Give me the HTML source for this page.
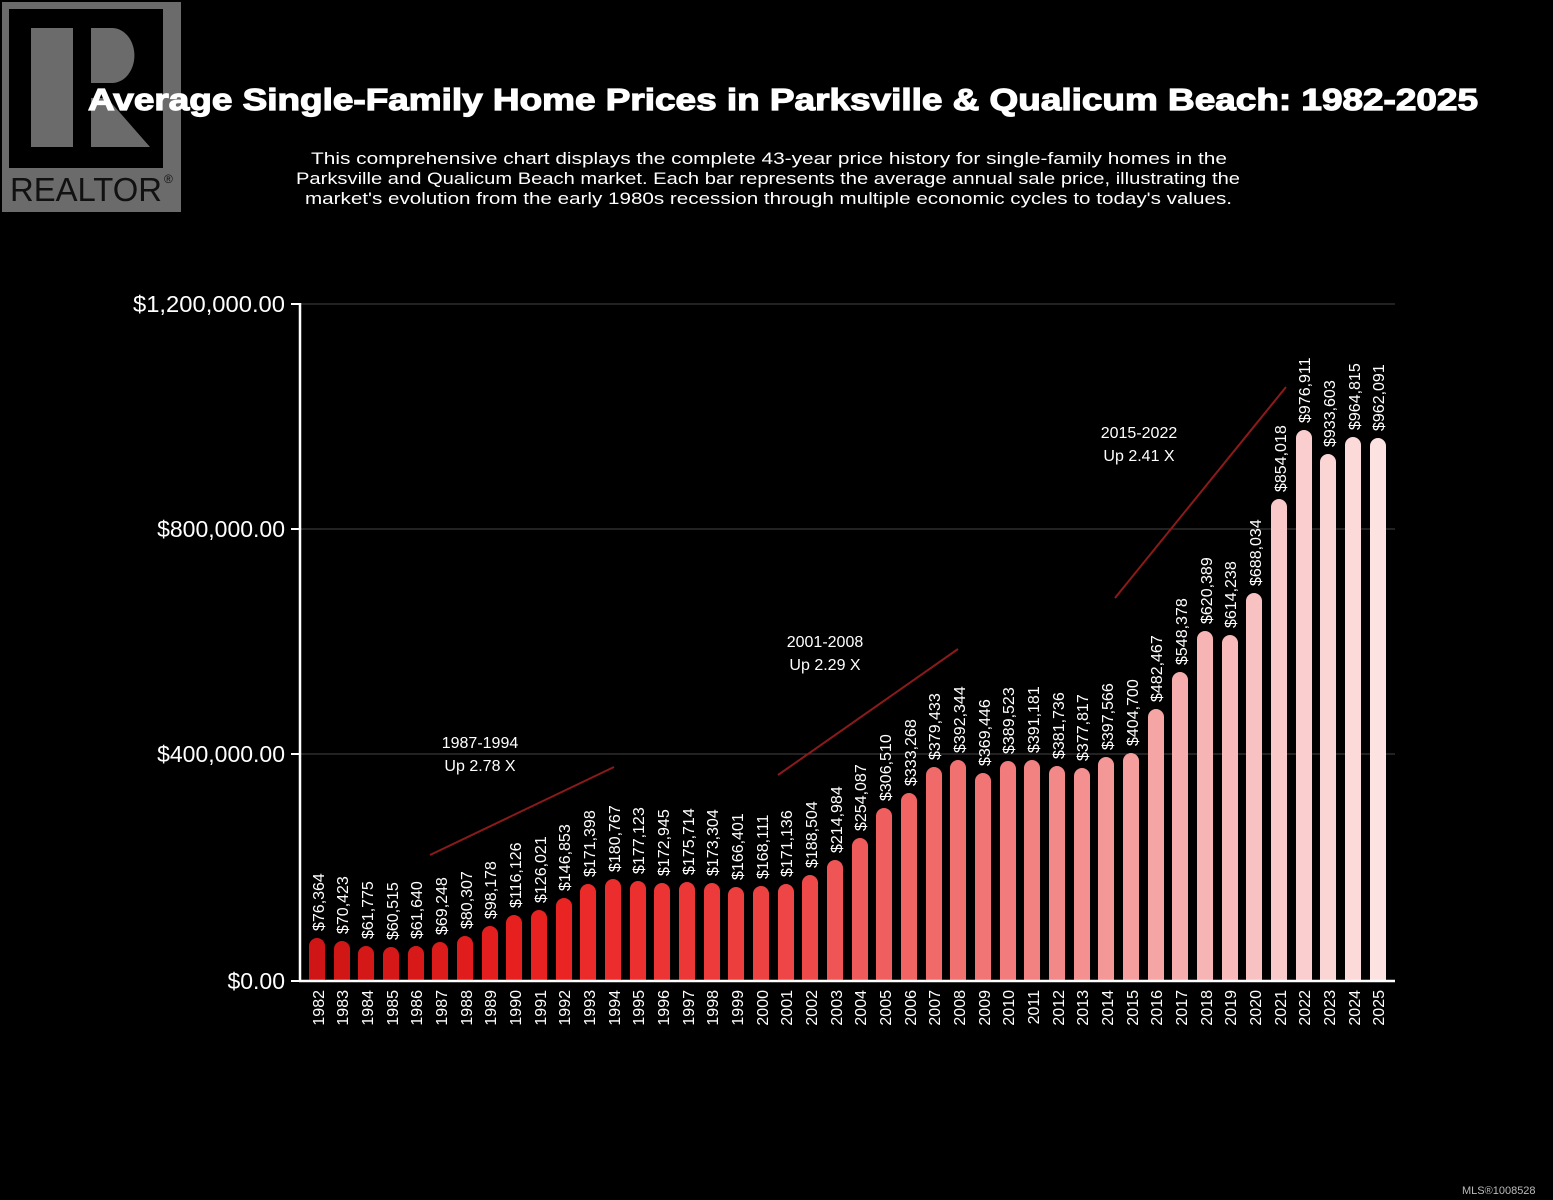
<!DOCTYPE html>
<html><head><meta charset="utf-8"><style>
html,body{margin:0;padding:0;background:#000;}
svg{display:block;font-family:"Liberation Sans",sans-serif;}
</style></head><body>
<svg width="1553" height="1200" viewBox="0 0 1553 1200" xmlns="http://www.w3.org/2000/svg">
<rect width="1553" height="1200" fill="#000"/>
<!-- logo -->
<rect x="2" y="2" width="179" height="210" fill="#6b6b6b"/>
<rect x="9" y="9" width="154" height="159" fill="#000"/>
<rect x="31" y="28" width="42" height="119" fill="#6b6b6b"/>
<path d="M91,28 H112 A22,27 0 0 1 112,83 H91 Z" fill="#6b6b6b"/>
<polygon points="91,98 91,147 150,147 107,98" fill="#6b6b6b"/>
<text x="10" y="201" font-size="33" fill="#111" textLength="152" lengthAdjust="spacingAndGlyphs">REALTOR</text>
<text x="164" y="183" font-size="12" fill="#111">®</text>
<!-- title -->
<text x="88" y="110" font-size="31" font-weight="bold" fill="#fff" stroke="#fff" stroke-width="1.2" textLength="1390" lengthAdjust="spacingAndGlyphs">Average Single-Family Home Prices in Parksville &amp; Qualicum Beach: 1982-2025</text>
<g font-size="17" fill="#fff">
<text x="311" y="164" textLength="916" lengthAdjust="spacingAndGlyphs">This comprehensive chart displays the complete 43-year price history for single-family homes in the</text>
<text x="296" y="184" textLength="944" lengthAdjust="spacingAndGlyphs">Parksville and Qualicum Beach market. Each bar represents the average annual sale price, illustrating the</text>
<text x="305" y="204" textLength="927" lengthAdjust="spacingAndGlyphs">market's evolution from the early 1980s recession through multiple economic cycles to today's values.</text>
</g>
<!-- grid -->
<line x1="300" y1="304" x2="1395" y2="304" stroke="#444" stroke-width="1"/>
<line x1="300" y1="529" x2="1395" y2="529" stroke="#444" stroke-width="1"/>
<line x1="300" y1="754" x2="1395" y2="754" stroke="#444" stroke-width="1"/>
<g stroke="#fff" stroke-width="2">
<line x1="291" y1="304" x2="300" y2="304"/><line x1="291" y1="529" x2="300" y2="529"/><line x1="291" y1="754" x2="300" y2="754"/><line x1="291" y1="981" x2="300" y2="981"/>
</g>
<g font-size="23" fill="#fff" text-anchor="end">
<text x="285" y="312" textLength="152" lengthAdjust="spacingAndGlyphs">$1,200,000.00</text>
<text x="285" y="537">$800,000.00</text>
<text x="285" y="762">$400,000.00</text>
<text x="285" y="989">$0.00</text>
</g>
<!-- bars -->
<g>
<rect x="309" y="938" width="16" height="52" rx="8" fill="#cf1515"/>
<rect x="334" y="941" width="16" height="49" rx="8" fill="#d11616"/>
<rect x="358" y="946" width="16" height="44" rx="8" fill="#d41717"/>
<rect x="383" y="947" width="16" height="43" rx="8" fill="#d61818"/>
<rect x="408" y="946" width="16" height="44" rx="8" fill="#d81919"/>
<rect x="432" y="942" width="16" height="48" rx="8" fill="#dc1b1b"/>
<rect x="457" y="936" width="16" height="54" rx="8" fill="#e01c1c"/>
<rect x="482" y="926" width="16" height="64" rx="8" fill="#e31e1e"/>
<rect x="506" y="915" width="16" height="75" rx="8" fill="#e61f1f"/>
<rect x="531" y="910" width="16" height="80" rx="8" fill="#e82121"/>
<rect x="556" y="898" width="16" height="92" rx="8" fill="#ea2323"/>
<rect x="580" y="884" width="16" height="106" rx="8" fill="#eb2a2a"/>
<rect x="605" y="879" width="16" height="111" rx="8" fill="#eb2d2d"/>
<rect x="630" y="881" width="16" height="109" rx="8" fill="#ec3030"/>
<rect x="654" y="883" width="16" height="107" rx="8" fill="#ec3434"/>
<rect x="679" y="882" width="16" height="108" rx="8" fill="#ec3737"/>
<rect x="704" y="883" width="16" height="107" rx="8" fill="#ed3a3a"/>
<rect x="728" y="887" width="16" height="103" rx="8" fill="#ed3e3e"/>
<rect x="753" y="886" width="16" height="104" rx="8" fill="#ed4242"/>
<rect x="778" y="884" width="16" height="106" rx="8" fill="#ee4646"/>
<rect x="802" y="875" width="16" height="115" rx="8" fill="#ee4a4a"/>
<rect x="827" y="860" width="16" height="130" rx="8" fill="#ef5555"/>
<rect x="852" y="838" width="16" height="152" rx="8" fill="#ef5a5a"/>
<rect x="876" y="808" width="16" height="182" rx="8" fill="#f05f5f"/>
<rect x="901" y="793" width="16" height="197" rx="8" fill="#f06464"/>
<rect x="926" y="767" width="16" height="223" rx="8" fill="#f06a6a"/>
<rect x="950" y="760" width="16" height="230" rx="8" fill="#f17070"/>
<rect x="975" y="773" width="16" height="217" rx="8" fill="#f17575"/>
<rect x="1000" y="761" width="16" height="229" rx="8" fill="#f27b7b"/>
<rect x="1024" y="760" width="16" height="230" rx="8" fill="#f28282"/>
<rect x="1049" y="766" width="16" height="224" rx="8" fill="#f38888"/>
<rect x="1074" y="768" width="16" height="222" rx="8" fill="#f49090"/>
<rect x="1098" y="757" width="16" height="233" rx="8" fill="#f49797"/>
<rect x="1123" y="753" width="16" height="237" rx="8" fill="#f59e9e"/>
<rect x="1148" y="709" width="16" height="281" rx="8" fill="#f6a5a5"/>
<rect x="1172" y="672" width="16" height="318" rx="8" fill="#f6adad"/>
<rect x="1197" y="631" width="16" height="359" rx="8" fill="#f7b4b4"/>
<rect x="1222" y="635" width="16" height="355" rx="8" fill="#f8baba"/>
<rect x="1246" y="593" width="16" height="397" rx="8" fill="#f9c2c2"/>
<rect x="1271" y="499" width="16" height="491" rx="8" fill="#f9c8c8"/>
<rect x="1296" y="430" width="16" height="560" rx="8" fill="#facece"/>
<rect x="1320" y="454" width="16" height="536" rx="8" fill="#fbd4d4"/>
<rect x="1345" y="437" width="16" height="553" rx="8" fill="#fcdada"/>
<rect x="1370" y="438" width="16" height="552" rx="8" fill="#fde2e2"/>
</g>
<rect x="300" y="982" width="1100" height="8" fill="#000"/>
<line x1="300" y1="303" x2="300" y2="982" stroke="#fff" stroke-width="2.5"/>
<line x1="299" y1="981" x2="1395" y2="981" stroke="#fff" stroke-width="2.5"/>
<!-- value labels -->
<g font-size="16" fill="#fff">
<text transform="translate(324,931) rotate(-90)">$76,364</text>
<text transform="translate(348,934) rotate(-90)">$70,423</text>
<text transform="translate(373,939) rotate(-90)">$61,775</text>
<text transform="translate(398,940) rotate(-90)">$60,515</text>
<text transform="translate(422,939) rotate(-90)">$61,640</text>
<text transform="translate(447,935) rotate(-90)">$69,248</text>
<text transform="translate(472,929) rotate(-90)">$80,307</text>
<text transform="translate(496,919) rotate(-90)">$98,178</text>
<text transform="translate(521,908) rotate(-90)">$116,126</text>
<text transform="translate(546,903) rotate(-90)">$126,021</text>
<text transform="translate(570,891) rotate(-90)">$146,853</text>
<text transform="translate(595,877) rotate(-90)">$171,398</text>
<text transform="translate(620,872) rotate(-90)">$180,767</text>
<text transform="translate(644,874) rotate(-90)">$177,123</text>
<text transform="translate(669,876) rotate(-90)">$172,945</text>
<text transform="translate(694,875) rotate(-90)">$175,714</text>
<text transform="translate(718,876) rotate(-90)">$173,304</text>
<text transform="translate(743,880) rotate(-90)">$166,401</text>
<text transform="translate(768,879) rotate(-90)">$168,111</text>
<text transform="translate(792,877) rotate(-90)">$171,136</text>
<text transform="translate(817,868) rotate(-90)">$188,504</text>
<text transform="translate(842,853) rotate(-90)">$214,984</text>
<text transform="translate(866,831) rotate(-90)">$254,087</text>
<text transform="translate(891,801) rotate(-90)">$306,510</text>
<text transform="translate(916,786) rotate(-90)">$333,268</text>
<text transform="translate(940,760) rotate(-90)">$379,433</text>
<text transform="translate(965,753) rotate(-90)">$392,344</text>
<text transform="translate(990,766) rotate(-90)">$369,446</text>
<text transform="translate(1014,754) rotate(-90)">$389,523</text>
<text transform="translate(1039,753) rotate(-90)">$391,181</text>
<text transform="translate(1064,759) rotate(-90)">$381,736</text>
<text transform="translate(1088,761) rotate(-90)">$377,817</text>
<text transform="translate(1113,750) rotate(-90)">$397,566</text>
<text transform="translate(1138,746) rotate(-90)">$404,700</text>
<text transform="translate(1162,702) rotate(-90)">$482,467</text>
<text transform="translate(1187,665) rotate(-90)">$548,378</text>
<text transform="translate(1212,624) rotate(-90)">$620,389</text>
<text transform="translate(1236,628) rotate(-90)">$614,238</text>
<text transform="translate(1261,586) rotate(-90)">$688,034</text>
<text transform="translate(1286,492) rotate(-90)">$854,018</text>
<text transform="translate(1310,423) rotate(-90)">$976,911</text>
<text transform="translate(1335,447) rotate(-90)">$933,603</text>
<text transform="translate(1360,430) rotate(-90)">$964,815</text>
<text transform="translate(1384,431) rotate(-90)">$962,091</text>
</g>
<!-- year labels -->
<g font-size="16" fill="#fff" text-anchor="end">
<text transform="translate(324,990) rotate(-90)">1982</text>
<text transform="translate(348,990) rotate(-90)">1983</text>
<text transform="translate(373,990) rotate(-90)">1984</text>
<text transform="translate(398,990) rotate(-90)">1985</text>
<text transform="translate(422,990) rotate(-90)">1986</text>
<text transform="translate(447,990) rotate(-90)">1987</text>
<text transform="translate(472,990) rotate(-90)">1988</text>
<text transform="translate(496,990) rotate(-90)">1989</text>
<text transform="translate(521,990) rotate(-90)">1990</text>
<text transform="translate(546,990) rotate(-90)">1991</text>
<text transform="translate(570,990) rotate(-90)">1992</text>
<text transform="translate(595,990) rotate(-90)">1993</text>
<text transform="translate(620,990) rotate(-90)">1994</text>
<text transform="translate(644,990) rotate(-90)">1995</text>
<text transform="translate(669,990) rotate(-90)">1996</text>
<text transform="translate(694,990) rotate(-90)">1997</text>
<text transform="translate(718,990) rotate(-90)">1998</text>
<text transform="translate(743,990) rotate(-90)">1999</text>
<text transform="translate(768,990) rotate(-90)">2000</text>
<text transform="translate(792,990) rotate(-90)">2001</text>
<text transform="translate(817,990) rotate(-90)">2002</text>
<text transform="translate(842,990) rotate(-90)">2003</text>
<text transform="translate(866,990) rotate(-90)">2004</text>
<text transform="translate(891,990) rotate(-90)">2005</text>
<text transform="translate(916,990) rotate(-90)">2006</text>
<text transform="translate(940,990) rotate(-90)">2007</text>
<text transform="translate(965,990) rotate(-90)">2008</text>
<text transform="translate(990,990) rotate(-90)">2009</text>
<text transform="translate(1014,990) rotate(-90)">2010</text>
<text transform="translate(1039,990) rotate(-90)">2011</text>
<text transform="translate(1064,990) rotate(-90)">2012</text>
<text transform="translate(1088,990) rotate(-90)">2013</text>
<text transform="translate(1113,990) rotate(-90)">2014</text>
<text transform="translate(1138,990) rotate(-90)">2015</text>
<text transform="translate(1162,990) rotate(-90)">2016</text>
<text transform="translate(1187,990) rotate(-90)">2017</text>
<text transform="translate(1212,990) rotate(-90)">2018</text>
<text transform="translate(1236,990) rotate(-90)">2019</text>
<text transform="translate(1261,990) rotate(-90)">2020</text>
<text transform="translate(1286,990) rotate(-90)">2021</text>
<text transform="translate(1310,990) rotate(-90)">2022</text>
<text transform="translate(1335,990) rotate(-90)">2023</text>
<text transform="translate(1360,990) rotate(-90)">2024</text>
<text transform="translate(1384,990) rotate(-90)">2025</text>
</g>
<!-- trend lines -->
<g stroke="#8b1a1a" stroke-width="2">
<line x1="430" y1="855" x2="614" y2="767"/>
<line x1="778" y1="775" x2="958" y2="649"/>
<line x1="1115" y1="598" x2="1286" y2="387"/>
</g>
<g font-size="16" fill="#fff" text-anchor="middle">
<text x="480" y="748">1987-1994</text><text x="480" y="771">Up 2.78 X</text>
<text x="825" y="647">2001-2008</text><text x="825" y="670">Up 2.29 X</text>
<text x="1139" y="438">2015-2022</text><text x="1139" y="461">Up 2.41 X</text>
</g>
<text x="1462" y="1194" font-size="11" fill="#bbb">MLS®1008528</text>
</svg>
</body></html>
